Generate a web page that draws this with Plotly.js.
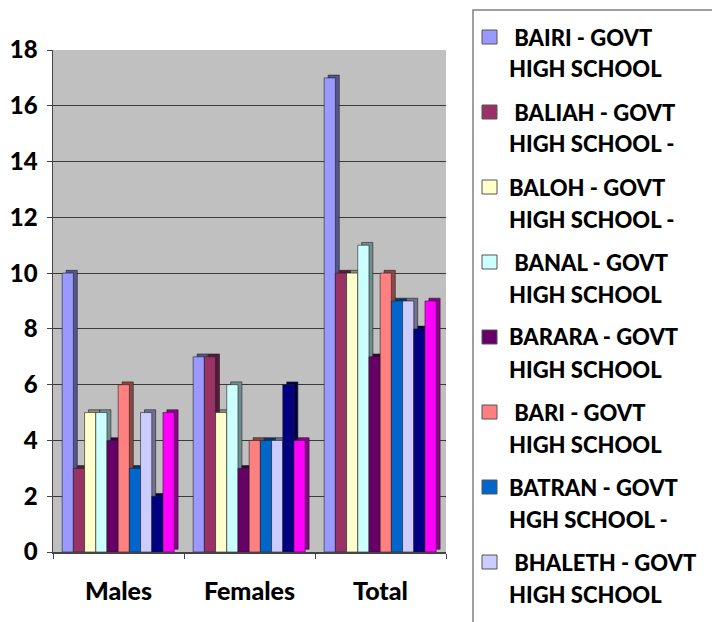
<!DOCTYPE html>
<html>
<head>
<meta charset="utf-8">
<script src="https://cdn.plot.ly/plotly-3.0.1.min.js"></script>
<style>html,body{margin:0;padding:0;background:#fff;}#chart{width:712px;height:622px;}</style>
</head>
<body>
<div id="chart"></div>
<script>
// ---- data ----
const categories = ['Males', 'Females', 'Total'];
const schoolLine1 = ['\u00a0BAIRI - GOVT', '\u00a0BALIAH - GOVT', 'BALOH - GOVT', '\u00a0BANAL - GOVT',
                     'BARARA - GOVT', '\u00a0BARI - GOVT', 'BATRAN - GOVT', '\u00a0BHALETH - GOVT',
                     'SCHOOL 9 - GOVT', 'SCHOOL 10 - GOVT'];
const schoolLine2 = ['HIGH SCHOOL', 'HIGH SCHOOL -', 'HIGH SCHOOL -', 'HIGH SCHOOL',
                     'HIGH SCHOOL', 'HIGH SCHOOL', 'HGH SCHOOL -', 'HIGH SCHOOL',
                     'HIGH SCHOOL', 'HIGH SCHOOL'];
const males   = [10, 3, 5, 5, 4, 6, 3, 5, 2, 5];
const females = [7, 7, 5, 6, 3, 4, 4, 4, 6, 4];
const totals  = [17, 10, 10, 11, 7, 10, 9, 9, 8, 9];
const yTicks  = [0, 2, 4, 6, 8, 10, 12, 14, 16, 18];

// ---- styles ----
const colors = ['#9999FF', '#993366', '#FFFFCC', '#CCFFFF', '#660066', '#FF8080', '#0066CC', '#CCCCFF', '#000080', '#FF00FF'];
const FONT = 'Lato, "Open Sans", sans-serif';
const W = 712, H = 622;
const M = {l: 53, r: 266, t: 50, b: 70};
const plotW = W - M.l - M.r, plotH = H - M.t - M.b;
const px2x = p => (p - M.l) / plotW;
const px2y = p => (H - M.b - p) / plotH;

function darken(hex, f) {
  const n = parseInt(hex.slice(1), 16);
  const r = Math.round(((n >> 16) & 255) * f), g = Math.round(((n >> 8) & 255) * f), b = Math.round((n & 255) * f);
  return 'rgb(' + r + ',' + g + ',' + b + ')';
}

const startOffset = -0.43, pitch = 0.0855, dx = 0.03, dy = 0.1;
const traces = [];
for (let i = 0; i < colors.length; i++) {
  const vals = [males[i], females[i], totals[i]];
  // depth face (3D look)
  traces.push({
    type: 'bar', x: categories, y: vals, base: dy,
    offset: startOffset + i * pitch + dx, width: pitch,
    marker: {color: darken(colors[i], 0.55), line: {color: '#222', width: 0.6}},
    hoverinfo: 'skip', showlegend: false
  });
  // front face
  traces.push({
    type: 'bar', x: categories, y: vals,
    offset: startOffset + i * pitch, width: pitch,
    name: schoolLine1[i].trim() + ' ' + schoolLine2[i],
    marker: {color: colors[i], line: {color: '#222', width: 0.6}},
    showlegend: false
  });
}

// manual legend (only the entries that fit in the picture, as in the reference)
const shapes = [{
  type: 'rect', xref: 'paper', yref: 'paper',
  x0: px2x(473), x1: px2x(730), y0: px2y(10), y1: px2y(700),
  line: {color: '#808080', width: 1.5}, fillcolor: 'rgba(0,0,0,0)', layer: 'above'
}];
const annotations = [];
const LFONT = {family: FONT, size: 22, color: '#000', weight: 900};
for (let i = 0; i < colors.length; i++) {
  const yc = 37 + 75 * i;
  if (yc + 44 > H) continue;
  shapes.push({
    type: 'rect', xref: 'paper', yref: 'paper',
    x0: px2x(482), x1: px2x(497), y0: px2y(yc - 7), y1: px2y(yc + 7),
    fillcolor: colors[i], line: {color: '#555', width: 1}, layer: 'above'
  });
  annotations.push({
    xref: 'paper', yref: 'paper', x: px2x(507), y: px2y(yc), xanchor: 'left', yanchor: 'middle',
    text: schoolLine1[i], showarrow: false, font: LFONT
  });
  annotations.push({
    xref: 'paper', yref: 'paper', x: px2x(507), y: px2y(yc + 32), xanchor: 'left', yanchor: 'middle',
    text: schoolLine2[i], showarrow: false, font: LFONT
  });
}

const layout = {
  width: W, height: H,
  margin: M,
  paper_bgcolor: '#ffffff', plot_bgcolor: '#C0C0C0',
  barmode: 'overlay',
  showlegend: false,
  font: {family: FONT, color: '#000'},
  xaxis: {
    type: 'category', categoryorder: 'array', categoryarray: categories,
    range: [-0.5, 2.5],
    showline: true, linecolor: '#444', linewidth: 1.5,
    ticks: 'outside', tickson: 'boundaries', ticklen: 5, tickcolor: '#444',
    tickfont: {family: FONT, size: 25, color: '#000', weight: 900},
    ticklabelstandoff: 16, showgrid: false, zeroline: false
  },
  yaxis: {
    range: [0, 18], tickvals: yTicks, ticktext: yTicks.map(String),
    showline: true, linecolor: '#444', linewidth: 1.5,
    ticks: 'outside', ticklen: 5, tickcolor: '#444',
    tickfont: {family: FONT, size: 24, color: '#000', weight: 900},
    ticklabelstandoff: 4,
    showgrid: true, gridcolor: '#3a3a3a', gridwidth: 1, zeroline: false
  },
  shapes: shapes,
  annotations: annotations
};

Plotly.newPlot('chart', traces, layout, {staticPlot: true, displayModeBar: false});
</script>
</body>
</html>
